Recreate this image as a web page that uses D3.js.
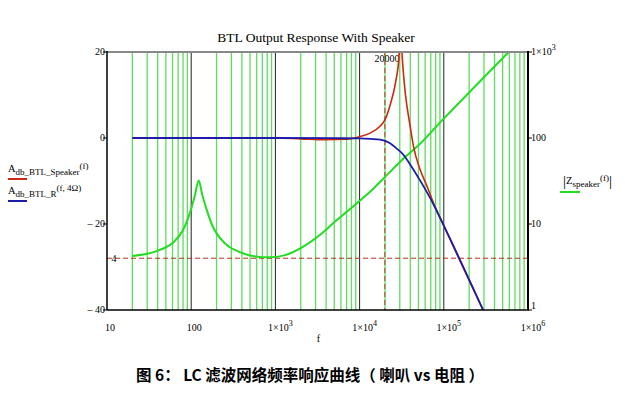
<!DOCTYPE html>
<html><head><meta charset="utf-8">
<script src="https://cdn.jsdelivr.net/npm/d3@7"></script>
<style>body{margin:0;background:#fff}svg{display:block}</style>
</head><body>
<script>
const title = "BTL Output Response With Speaker";
const caption = "图 6： LC 滤波网络频率响应曲线（ 喇叭 vs 电阻 ）";
const xTicks = [10, 100, 1000, 10000, 100000, 1000000];
const xTickBase = ["10", "100", "1×10", "1×10", "1×10", "1×10"];
const xTickExp = ["", "", "3", "4", "5", "6"];
const yLeftTicks = [20, 0, -20, -40];
const yLeftLabels = ["20", "0", "– 20", "– 40"];
const yRightTicks = [1000, 100, 10, 1];
const yRightBase = ["1×10", "100", "10", "1"];
const yRightExp = ["3", "", "", ""];
const markerFreq = 20000, markerFreqLabel = "20000";
const markerZ = 4, markerZLabel = "4";

// A_db_BTL_Speaker(f) (dB)
const spkF  = [20, 1000, 2000, 4000, 7000, 10000, 13500, 17600, 20000, 23000, 26900, 29300, 30600, 31800, 33500, 35000, 40000, 43700, 52000, 62000, 75000, 100000, 293000];
const spkDb = [0, 0, -0.2, -0.4, -0.3, 0.3, 1.2, 2.8, 4.2, 7.6, 13.2, 18.8, 27, 20, 14, 10.2, 2.5, -2.0, -7.2, -10.8, -15, -20.4, -40];
// A_db_BTL_R(f, 4Ω) (dB)
const resF  = [20, 1000, 5000, 10000, 17600, 23000, 27000, 33500, 40000, 52000, 69000, 100000, 293000];
const resDb = [0, 0, -0.05, -0.1, -0.4, -1.2, -2.3, -4.0, -6.2, -9.8, -14, -20.4, -40];
// |Z_speaker(f)| (Ω)
const zF = [20, 30, 40, 60, 80, 100, 110, 123, 135, 150, 175, 250, 360, 580, 850, 1300, 2170, 3400, 5400, 8500, 13500, 21000, 33500, 48500, 100000, 590000];
const zV = [4.25, 4.5, 4.9, 6.0, 8.5, 15, 21, 32, 22, 15.5, 10, 6.0, 4.8, 4.2, 4.1, 4.35, 5.5, 7.5, 11.2, 16.2, 24, 37, 58, 80, 168, 1000];

const W = 625, H = 399;
const L = 107, R = 528, T = 52, B = 310;
const svg = d3.select("body").append("svg").attr("width", W).attr("height", H);
const x = d3.scaleLog().domain([10, 1e6]).range([L, R]);
const yDb = d3.scaleLinear().domain([-40, 20]).range([B, T]);
const yZ = d3.scaleLog().domain([1, 1000]).range([B, T]);
const serif = "'Liberation Serif', 'DejaVu Serif', serif";

svg.append("defs").append("clipPath").attr("id", "clip")
  .append("rect").attr("x", L).attr("y", T).attr("width", R - L).attr("height", B - T);

// minor grid lines
const minor = x.ticks().filter(v => !xTicks.includes(v) && v > 10 && v < 1e6);
svg.append("g").selectAll("line").data(minor).join("line")
  .attr("x1", d => x(d)).attr("x2", d => x(d)).attr("y1", T).attr("y2", B)
  .attr("stroke", "#5fdc5f").attr("stroke-width", 1.3);
// decade lines
svg.append("g").selectAll("line").data(xTicks.slice(1, -1)).join("line")
  .attr("x1", d => x(d)).attr("x2", d => x(d)).attr("y1", T).attr("y2", B)
  .attr("stroke", "#222").attr("stroke-width", 1);

// markers
svg.append("line").attr("x1", x(markerFreq)).attr("x2", x(markerFreq)).attr("y1", T).attr("y2", B)
  .attr("stroke", "#b8301c").attr("stroke-width", 1).attr("stroke-dasharray", "5,3");
svg.append("line").attr("x1", L).attr("x2", R).attr("y1", yZ(markerZ)).attr("y2", yZ(markerZ))
  .attr("stroke", "#b8301c").attr("stroke-width", 1).attr("stroke-dasharray", "5,3");
svg.append("text").attr("x", x(markerFreq) + 2).attr("y", T + 10).attr("text-anchor", "middle")
  .attr("font-family", serif).attr("font-size", 10).text(markerFreqLabel);
svg.append("text").attr("x", L + 7).attr("y", yZ(markerZ) + 3.5).attr("text-anchor", "middle")
  .attr("font-family", serif).attr("font-size", 10).text(markerZLabel);

// curves
const g = svg.append("g").attr("clip-path", "url(#clip)");
const lineDb = d3.line().x(d => x(d[0])).y(d => yDb(d[1])).curve(d3.curveMonotoneX);
const lineZ = d3.line().x(d => x(d[0])).y(d => yZ(d[1])).curve(d3.curveMonotoneX);
g.append("path").datum(zF.map((f, i) => [f, zV[i]])).attr("d", lineZ)
  .attr("fill", "none").attr("stroke", "#22dd22").attr("stroke-width", 2);
g.append("path").datum(spkF.map((f, i) => [f, spkDb[i]])).attr("d", lineDb)
  .attr("fill", "none").attr("stroke", "#cc2a10").attr("stroke-width", 1.6);
g.append("path").datum(resF.map((f, i) => [f, resDb[i]])).attr("d", lineDb)
  .attr("fill", "none").attr("stroke", "#1c1ca8").attr("stroke-width", 1.8);

// frame
svg.append("line").attr("x1", L).attr("x2", R).attr("y1", T).attr("y2", T).attr("stroke", "#888").attr("stroke-width", 2);
svg.append("line").attr("x1", L).attr("x2", R + 1).attr("y1", B).attr("y2", B).attr("stroke", "#000").attr("stroke-width", 1.5);
svg.append("line").attr("x1", L).attr("x2", L).attr("y1", T - 1).attr("y2", B).attr("stroke", "#000").attr("stroke-width", 1.5);
svg.append("line").attr("x1", R).attr("x2", R).attr("y1", T - 1).attr("y2", B).attr("stroke", "#000").attr("stroke-width", 2);

// left axis
yLeftTicks.forEach((v, i) => {
  const yy = yDb(v);
  svg.append("line").attr("x1", L - 4).attr("x2", L).attr("y1", yy).attr("y2", yy).attr("stroke", "#000");
  svg.append("text").attr("x", L - 2).attr("y", yy + 3).attr("text-anchor", "end")
    .attr("font-family", serif).attr("font-size", 10).text(yLeftLabels[i]);
});
// right axis
yRightTicks.forEach((v, i) => {
  const yy = yZ(v);
  svg.append("line").attr("x1", R).attr("x2", R + 4).attr("y1", yy).attr("y2", yy).attr("stroke", "#000");
  const t = svg.append("text").attr("x", R + 3).attr("y", v === 1 ? yy - 1 : yy + 3)
    .attr("font-family", serif).attr("font-size", 10);
  t.append("tspan").text(yRightBase[i]);
  if (yRightExp[i]) t.append("tspan").attr("dy", -5).attr("font-size", 8).text(yRightExp[i]);
});
// bottom axis
xTicks.forEach((v, i) => {
  const t = svg.append("text").attr("x", x(v) + (xTickExp[i] ? 5 : 3)).attr("y", B + 21).attr("text-anchor", "middle")
    .attr("font-family", serif).attr("font-size", 10);
  t.append("tspan").text(xTickBase[i]);
  if (xTickExp[i]) t.append("tspan").attr("dy", -5).attr("font-size", 8).text(xTickExp[i]);
});
svg.append("text").attr("x", (L + R) / 2 + 1).attr("y", B + 32).attr("text-anchor", "middle")
  .attr("font-family", serif).attr("font-size", 10).text("f");

// title
svg.append("text").attr("x", 316).attr("y", 42).attr("text-anchor", "middle")
  .attr("font-family", serif).attr("font-size", 13.5).text(title);

// left legend
function legendEntry(yb, sub, args, color) {
  const t = svg.append("text").attr("x", 8).attr("y", yb).attr("font-family", serif).attr("font-size", 10.5);
  t.append("tspan").text("A");
  t.append("tspan").attr("dy", 3).attr("font-size", 9).text(sub);
  t.append("tspan").attr("dy", -6).attr("font-size", 9).text(args);
  svg.append("line").attr("x1", 8).attr("x2", 27).attr("y1", yb + 7).attr("y2", yb + 7)
    .attr("stroke", color).attr("stroke-width", 2);
}
legendEntry(172, "db_BTL_Speaker", "(f)", "#cc2a10");
legendEntry(194, "db_BTL_R", "(f, 4Ω)", "#1c1ca8");

// right legend
const zt = svg.append("text").attr("x", 563).attr("y", 184).attr("font-family", serif).attr("font-size", 10.5);
zt.append("tspan").attr("font-size", 15).attr("dy", 2).text("|");
zt.append("tspan").attr("dy", -2).text("Z");
zt.append("tspan").attr("dy", 3).attr("font-size", 9).text("speaker");
zt.append("tspan").attr("dy", -6).attr("font-size", 9).text("(f)");
zt.append("tspan").attr("dy", 5).attr("font-size", 15).text("|");
svg.append("line").attr("x1", 560).attr("x2", 580).attr("y1", 192).attr("y2", 192)
  .attr("stroke", "#22dd22").attr("stroke-width", 2);

// caption
svg.append("text").attr("x", 310).attr("y", 381).attr("text-anchor", "middle")
  .attr("font-family", "'Noto Sans CJK SC', sans-serif").attr("font-weight", "bold")
  .attr("font-size", 15.5).text(caption);
</script>
</body></html>
